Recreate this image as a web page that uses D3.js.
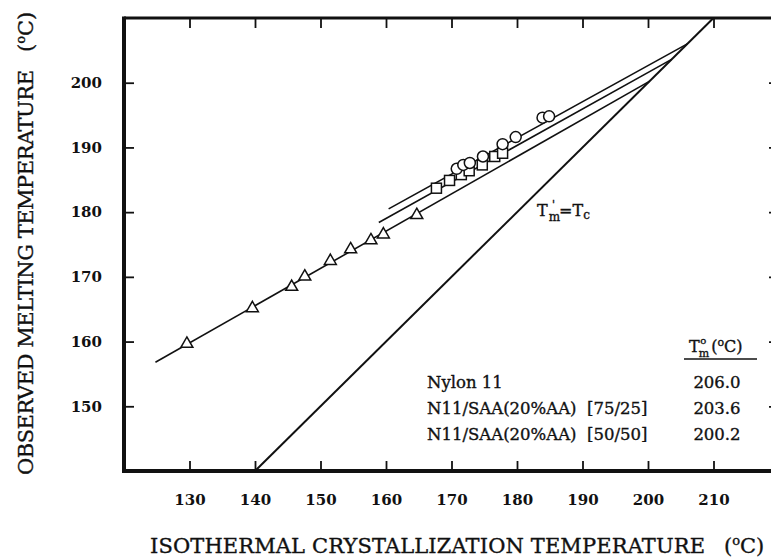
<!DOCTYPE html>
<html>
<head>
<meta charset="utf-8">
<script src="https://cdn.jsdelivr.net/npm/d3@7"></script>
<style>
  body { margin: 0; background: #fff; }
  svg text { font-family: "DejaVu Serif", "Liberation Serif", serif; fill: #111; }
  .heavy { stroke: #111; stroke-width: 0.35px; }
</style>
</head>
<body>
<svg class="chart_svg"></svg>
<script>
// data (temperatures in deg C)
const nylonTc = [170.8, 171.8, 172.8, 174.8, 177.8, 179.8, 183.9, 184.9];
const nylonTm = [186.7, 187.3, 187.6, 188.6, 190.5, 191.6, 194.6, 194.8];
const blend75Tc = [167.7, 169.7, 171.5, 172.7, 174.7, 176.6, 177.8];
const blend75Tm = [183.7, 184.9, 185.8, 186.4, 187.3, 188.6, 189.1];
const blend50Tc = [129.6, 139.6, 145.6, 147.6, 151.5, 154.6, 157.7, 159.6, 164.7];
const blend50Tm = [159.8, 165.3, 168.6, 170.2, 172.6, 174.4, 175.8, 176.7, 179.7];

// extrapolation lines: start point, ending on Tm'=Tc at Tm0
const seriesNames = ["Nylon 11", "N11/SAA(20%AA)  [75/25]", "N11/SAA(20%AA)  [50/50]"];
const tm0 = [206.0, 203.6, 200.2];
const fitStartTc = [160.4, 158.9, 124.8];
const fitStartTm = [180.5, 178.4, 156.8];

const xTicks = [130, 140, 150, 160, 170, 180, 190, 200, 210];
const yTicks = [150, 160, 170, 180, 190, 200];

const width = 771, height = 558;
const svg = d3.select(".chart_svg").attr("width", width).attr("height", height);

const x = d3.scaleLinear().domain([120, 220]).range([124, 779]);
const y = d3.scaleLinear().domain([140, 210]).range([471, 18]);

// axes, ticks pointing inward
const bottomAxis = svg.append("g").attr("class", "x_axis_g")
  .attr("transform", `translate(0,${y(140)})`)
  .call(d3.axisBottom(x).tickValues(xTicks).tickSizeInner(-10).tickSizeOuter(0).tickPadding(23));
const topAxis = svg.append("g")
  .attr("transform", `translate(0,${y(210)})`)
  .call(d3.axisTop(x).tickValues(xTicks).tickSizeInner(-10).tickSizeOuter(0).tickFormat(""));
const leftAxis = svg.append("g").attr("class", "y_axis_g")
  .attr("transform", `translate(${x(120)},0)`)
  .call(d3.axisLeft(y).tickValues(yTicks).tickSizeInner(-10).tickSizeOuter(0).tickPadding(22));
const rightAxis = svg.append("g")
  .attr("transform", `translate(${x(220)},0)`)
  .call(d3.axisRight(y).tickValues(yTicks).tickSizeInner(-10).tickSizeOuter(0).tickFormat(""));

[bottomAxis, topAxis, leftAxis, rightAxis].forEach(g => {
  g.select(".domain").remove();
  g.selectAll(".tick line").attr("stroke", "#111").attr("stroke-width", 1.8);
  g.selectAll(".tick text").style("font-size", "15px").style("font-weight", "bold")
    .style("font-family", "'DejaVu Serif', serif").attr("fill", "#111");
});

// frame
svg.append("line").attr("x1", x(120)).attr("x2", x(220)).attr("y1", y(210)).attr("y2", y(210))
  .attr("stroke", "#111").attr("stroke-width", 3);
svg.append("line").attr("x1", x(120) - 2).attr("x2", x(220)).attr("y1", y(140)).attr("y2", y(140))
  .attr("stroke", "#111").attr("stroke-width", 4);
svg.append("line").attr("x1", x(120)).attr("x2", x(120)).attr("y1", y(210) - 1.5).attr("y2", y(140) + 2)
  .attr("stroke", "#111").attr("stroke-width", 4);

// Tm' = Tc line
svg.append("line")
  .attr("x1", x(140)).attr("y1", y(140)).attr("x2", x(210)).attr("y2", y(210))
  .attr("stroke", "#111").attr("stroke-width", 2);

// extrapolation lines
svg.selectAll(".fit-line")
  .data(tm0)
  .join("line")
  .attr("class", "fit-line")
  .attr("x1", (d, i) => x(fitStartTc[i]))
  .attr("y1", (d, i) => y(fitStartTm[i]))
  .attr("x2", d => x(d))
  .attr("y2", d => y(d))
  .attr("stroke", "#111")
  .attr("stroke-width", 1.6);

// markers
const markerStyle = sel => sel.attr("fill", "#fff").attr("stroke", "#111").attr("stroke-width", 1.5);

svg.selectAll(".tri")
  .data(blend50Tc)
  .join("path")
  .attr("class", "tri")
  .attr("d", d3.symbol(d3.symbolTriangle, 62))
  .attr("transform", (d, i) => `translate(${x(d)},${y(blend50Tm[i]) + 1})`)
  .call(markerStyle);

svg.selectAll(".sq")
  .data(blend75Tc)
  .join("rect")
  .attr("class", "sq")
  .attr("x", d => x(d) - 5)
  .attr("y", (d, i) => y(blend75Tm[i]) - 5)
  .attr("width", 10).attr("height", 10)
  .call(markerStyle);

svg.selectAll(".circ")
  .data(nylonTc)
  .join("circle")
  .attr("class", "circ")
  .attr("cx", d => x(d))
  .attr("cy", (d, i) => y(nylonTm[i]))
  .attr("r", 5.5)
  .call(markerStyle);

// Tm'=Tc label
const eq = svg.append("text").attr("class", "heavy").attr("x", 537).attr("y", 216).style("font-size", "16px");
eq.append("tspan").text("T");
eq.append("tspan").attr("dx", 1).attr("dy", 5).style("font-size", "12px").text("m");
eq.append("tspan").attr("dx", -8).attr("dy", -13).style("font-size", "11px").text("'");
eq.append("tspan").attr("dx", 4).attr("dy", 8).text("=T");
eq.append("tspan").attr("dy", 3).style("font-size", "12px").text("c");

// table of Tm0
const hdr = svg.append("text").attr("class", "heavy").attr("x", 689).attr("y", 352).style("font-size", "16px");
hdr.append("tspan").text("T");
hdr.append("tspan").attr("dx", 0.5).attr("dy", -8).style("font-size", "10px").text("o");
hdr.append("tspan").attr("dx", -7.5).attr("dy", 13).style("font-size", "11px").text("m");
hdr.append("tspan").attr("dx", 2).attr("dy", -5).text("(");
hdr.append("tspan").attr("dy", -6).style("font-size", "11px").text("o");
hdr.append("tspan").attr("dy", 6).text("C)");
svg.append("line").attr("x1", 684).attr("x2", 757).attr("y1", 359).attr("y2", 359)
  .attr("stroke", "#111").attr("stroke-width", 1.5);

const rowY = [388, 414, 440];
svg.selectAll(".row-name")
  .data(seriesNames)
  .join("text")
  .attr("class", "row-name heavy")
  .attr("x", 427)
  .attr("y", (d, i) => rowY[i])
  .style("font-size", "16.5px")
  .style("white-space", "pre")
  .attr("xml:space", "preserve")
  .text(d => d);
svg.selectAll(".row-val")
  .data(tm0)
  .join("text")
  .attr("class", "row-val heavy")
  .attr("x", 717)
  .attr("y", (d, i) => rowY[i])
  .attr("text-anchor", "middle")
  .style("font-size", "16.5px")
  .text(d => d.toFixed(1));

// axis titles
svg.append("text").attr("class", "heavy").attr("x", 150).attr("y", 553).style("font-size", "21px")
  .attr("textLength", 555).attr("lengthAdjust", "spacing")
  .text("ISOTHERMAL CRYSTALLIZATION TEMPERATURE");
const xu = svg.append("text").attr("class", "heavy").attr("x", 724).attr("y", 553).style("font-size", "21px");
xu.append("tspan").text("(");
xu.append("tspan").attr("dy", -8).style("font-size", "13px").text("o");
xu.append("tspan").attr("dy", 8).text("C)");

svg.append("text").attr("class", "heavy").attr("transform", "translate(33,475) rotate(-90)")
  .style("font-size", "21px")
  .attr("textLength", 405).attr("lengthAdjust", "spacing")
  .text("OBSERVED MELTING TEMPERATURE");
const yu = svg.append("text").attr("class", "heavy").attr("transform", "translate(33,52) rotate(-90)").style("font-size", "21px");
yu.append("tspan").text("(");
yu.append("tspan").attr("dy", -8).style("font-size", "13px").text("o");
yu.append("tspan").attr("dy", 8).text("C)");
</script>
</body>
</html>
